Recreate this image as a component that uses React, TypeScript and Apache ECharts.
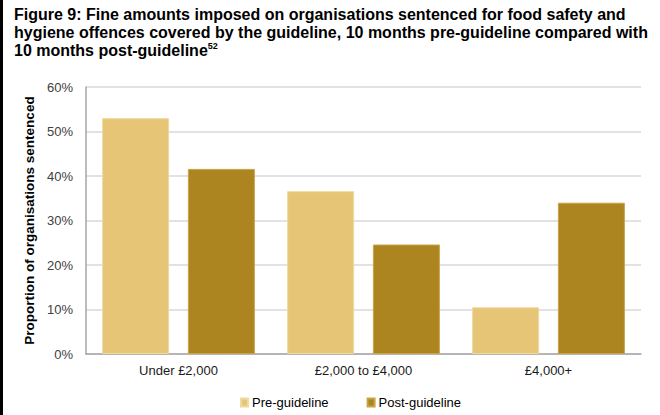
import React, { useEffect, useRef } from "react";
import * as echarts from "echarts";

const categories = ["Under £2,000", "£2,000 to £4,000", "£4,000+"];
const preGuideline = [53, 36.6, 10.5];
const postGuideline = [41.6, 24.6, 34];
const seriesNames = ["Pre-guideline", "Post-guideline"];
const titleLines = [
  "Figure 9: Fine amounts imposed on organisations sentenced for food safety and",
  "hygiene offences covered by the guideline, 10 months pre-guideline compared with",
  "10 months post-guideline",
];
const footnote = "52";
const yAxisName = "Proportion of organisations sentenced";

export default function App() {
  const ref = useRef<HTMLDivElement>(null);
  useEffect(() => {
    document.body.style.margin = "0";
    const chart = echarts.init(ref.current!, null, { renderer: "svg" });
    const font = "'Liberation Sans', Arial, sans-serif";
    chart.setOption({
      animation: false,
      backgroundColor: "#ffffff",
      textStyle: { fontFamily: font },
      title: {
        text:
          titleLines[0] + "\n" + titleLines[1] + "\n" + titleLines[2] + "{sup|" + footnote + "}",
        left: 9,
        top: 0,
        textStyle: {
          fontFamily: font,
          fontSize: 16,
          fontWeight: "bold",
          color: "#000",
          lineHeight: 18,
          rich: {
            sup: {
              fontFamily: font,
              fontSize: 9,
              fontWeight: "bold",
              color: "#000",
              verticalAlign: "top",
              lineHeight: 16,
            },
          },
        },
      },
      graphic: [
        {
          type: "rect",
          left: 0,
          top: 0,
          shape: { width: 3, height: 415 },
          style: { fill: "#000" },
        },
      ],
      legend: {
        data: seriesNames,
        left: 235,
        top: 391,
        itemWidth: 7,
        itemHeight: 8,
        itemGap: 38,
        icon: "rect",
        textStyle: { fontFamily: font, fontSize: 13, color: "#000", padding: [0, 0, 0, -1] },
      },
      grid: { left: 86, right: 19, top: 87, bottom: 61 },
      xAxis: {
        type: "category",
        data: categories,
        axisLine: { lineStyle: { color: "#a6a6a6", width: 1.5 } },
        axisTick: { show: false },
        axisLabel: { fontFamily: font, fontSize: 13, color: "#1a1a1a", margin: 10 },
      },
      yAxis: {
        type: "value",
        min: 0,
        max: 60,
        interval: 10,
        name: yAxisName,
        nameLocation: "middle",
        nameGap: 48,
        nameTextStyle: { fontFamily: font, fontSize: 13.5, fontWeight: "bold", color: "#000" },
        axisLine: { show: true, lineStyle: { color: "#a6a6a6", width: 1.5 } },
        axisTick: { show: false },
        splitLine: { lineStyle: { color: "#d9d9d9", width: 1.5 } },
        axisLabel: {
          fontFamily: font,
          fontSize: 13,
          color: "#404040",
          margin: 13,
          formatter: "{value}%",
        },
      },
      series: [
        {
          name: seriesNames[0],
          type: "bar",
          data: preGuideline,
          barWidth: 67,
          barGap: "28%",
          itemStyle: { color: "#e6c576", borderColor: "#f0d9a0", borderWidth: 1 },
        },
        {
          name: seriesNames[1],
          type: "bar",
          data: postGuideline,
          barWidth: 67,
          barGap: "28%",
          itemStyle: { color: "#ad8520", borderColor: "#c9a448", borderWidth: 1 },
        },
      ],
    });
    return () => chart.dispose();
  }, []);
  return (
    <div
      ref={ref}
      style={{ position: "fixed", left: 0, top: 0, width: 660, height: 415 }}
    />
  );
}
